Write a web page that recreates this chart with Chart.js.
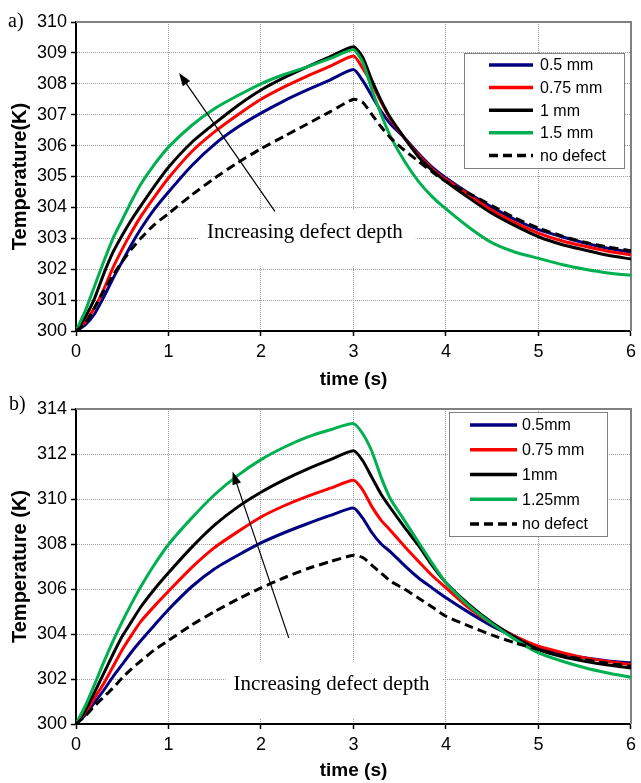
<!DOCTYPE html>
<html><head><meta charset="utf-8">
<script src="https://cdn.jsdelivr.net/npm/chart.js@4.4.1/dist/chart.umd.min.js"></script>
<style>body{margin:0;background:#fff;}canvas{display:block;}</style>
</head><body>
<canvas id="ca" width="641" height="392"></canvas>
<canvas id="cb" width="641" height="391"></canvas>
<script>
// ---------- data ----------
const times = [0,0.1,0.2,0.3,0.4,0.5,0.6,0.7,0.85,1.0,1.25,1.5,1.75,2.0,2.25,2.5,2.75,3.0,3.1,3.2,3.3,3.4,3.55,3.7,3.85,4.0,4.25,4.5,4.75,5.0,5.25,5.5,5.75,6.0];
const xTicks = [0,1,2,3,4,5,6];
const yTicksA = [300,301,302,303,304,305,306,307,308,309,310];
const yTicksB = [300,302,304,306,308,310,312,314];

const labelsA = ['0.5 mm','0.75 mm','1 mm','1.5 mm','no defect'];
const labelsB = ['0.5mm','0.75 mm','1mm','1.25mm','no defect'];

// panel a)
const a_05  = [300,300.2,300.55,301.1,301.7,302.25,302.8,303.3,303.95,304.5,305.35,306.05,306.6,307.05,307.45,307.8,308.13,308.46,308.1,307.6,307.1,306.7,306.25,305.75,305.3,304.95,304.45,304.0,303.6,303.28,303.05,302.85,302.68,302.55];
const a_075 = [300,300.3,300.75,301.35,302.05,302.65,303.2,303.7,304.35,304.95,305.8,306.45,307.0,307.5,307.9,308.25,308.57,308.9,308.5,308.0,307.4,306.85,306.25,305.7,305.25,304.9,304.4,303.9,303.5,303.17,302.92,302.74,302.58,302.46];
const a_1   = [300,300.45,301.05,301.85,302.55,303.1,303.6,304.05,304.7,305.3,306.1,306.72,307.3,307.8,308.2,308.55,308.88,309.2,308.85,308.1,307.45,306.9,306.25,305.65,305.2,304.84,304.3,303.8,303.4,303.05,302.8,302.62,302.45,302.33];
const a_15  = [300,300.65,301.45,302.25,303.0,303.6,304.2,304.75,305.4,305.95,306.65,307.2,307.62,308.0,308.3,308.55,308.82,309.1,308.7,307.8,307.0,306.3,305.5,304.85,304.35,303.95,303.35,302.85,302.55,302.35,302.15,302.0,301.88,301.8];
const a_nod = [300,300.25,300.75,301.3,301.8,302.25,302.65,303.0,303.45,303.8,304.4,304.95,305.45,305.9,306.3,306.7,307.1,307.5,307.4,307.0,306.6,306.25,305.85,305.5,305.15,304.84,304.45,304.05,303.65,303.33,303.08,302.87,302.72,302.6];

// panel b)
const b_05  = [300,300.4,300.95,301.5,302.1,302.65,303.2,303.7,304.4,305.09,306.1,306.9,307.5,308.05,308.5,308.9,309.27,309.6,309.15,308.5,308.0,307.65,307.05,306.5,306.05,305.61,304.95,304.35,303.85,303.38,303.12,302.94,302.8,302.72];
const b_075 = [300,300.5,301.15,301.8,302.55,303.3,303.95,304.55,305.25,305.9,306.95,307.85,308.55,309.2,309.7,310.12,310.48,310.83,310.4,309.65,309.05,308.6,307.9,307.24,306.6,306.05,305.15,304.45,303.9,303.46,303.18,302.94,302.78,302.64];
const b_1   = [300,300.6,301.4,302.25,303.1,303.9,304.55,305.2,306.0,306.72,307.85,308.85,309.65,310.3,310.85,311.33,311.75,312.14,311.7,310.95,310.2,309.6,308.75,307.95,307.05,306.28,305.3,304.5,303.85,303.31,303.0,302.79,302.62,302.49];
const b_125 = [300,300.8,301.75,302.75,303.68,304.55,305.35,306.1,307.1,307.98,309.15,310.2,311.05,311.75,312.3,312.75,313.08,313.35,312.9,312.1,310.95,310.0,309.05,308.1,307.15,306.28,305.25,304.45,303.75,303.16,302.8,302.5,302.27,302.08];
const b_nod = [300,300.35,300.8,301.2,301.6,302.05,302.45,302.8,303.3,303.71,304.4,305.0,305.55,306.05,306.5,306.9,307.22,307.5,307.4,307.05,306.7,306.35,306.0,305.6,305.2,304.79,304.35,303.95,303.6,303.31,303.05,302.86,302.7,302.57];

// annotation anchors (data coords)
const arrowA = {from:[2.15,303.87], to:[1.114,308.35]};
const arrowB = {from:[2.30,303.83], to:[1.693,311.22]};
const noteText = 'Increasing defect depth';
const noteA = [1.415,303.0];
const noteB = [1.704,301.5];

// ---------- styles ----------
const colors = ['#000080','#ff0000','#000000','#00b050','#000000'];
const dashes = [[],[],[],[],[9,5]];

function mkDatasets(labels, series){
  return series.map((arr,i)=>({
    label: labels[i],
    data: times.map((t,k)=>({x:t,y:arr[k]})),
    borderColor: colors[i],
    borderDash: dashes[i],
    borderWidth: 3,
    pointRadius: 0,
    tension: 0.2,
    fill: false,
    order: series.length - i
  }));
}

const decor = {
  id: 'decor',
  beforeDatasetsDraw(chart, args, o){
    const ctx = chart.ctx, ca = chart.chartArea;
    const xs = chart.scales.x, ys = chart.scales.y;
    ctx.save();
    ctx.strokeStyle = '#808080'; ctx.lineWidth = 2; ctx.setLineDash([]);
    ctx.beginPath(); ctx.moveTo(ca.left, ca.top); ctx.lineTo(ca.right, ca.top); ctx.lineTo(ca.right, ca.bottom); ctx.stroke();
    // note with white background
    ctx.font = '21px "Liberation Serif", "Times New Roman", serif';
    const tx = xs.getPixelForValue(o.note[0]), ty = ys.getPixelForValue(o.note[1]);
    const w = ctx.measureText(o.text).width;
    ctx.fillStyle = '#fff';
    ctx.fillRect(tx - 8, ty - 29, w + 21, 57);
    ctx.fillStyle = '#000'; ctx.textBaseline = 'alphabetic'; ctx.textAlign = 'left';
    ctx.fillText(o.text, tx, ty);
    ctx.restore();
  },
  afterDatasetsDraw(chart, args, o){
    const ctx = chart.ctx;
    const xs = chart.scales.x, ys = chart.scales.y;
    ctx.save();
    // arrow
    const x1 = xs.getPixelForValue(o.arrow.from[0]), y1 = ys.getPixelForValue(o.arrow.from[1]);
    const x2 = xs.getPixelForValue(o.arrow.to[0]), y2 = ys.getPixelForValue(o.arrow.to[1]);
    const ang = Math.atan2(y2 - y1, x2 - x1);
    const hl = 13, hw = 4.5;
    ctx.strokeStyle = '#000'; ctx.lineWidth = 1.2; ctx.setLineDash([]);
    ctx.beginPath(); ctx.moveTo(x1, y1);
    ctx.lineTo(x2 - Math.cos(ang)*hl*0.8, y2 - Math.sin(ang)*hl*0.8); ctx.stroke();
    ctx.fillStyle = '#000';
    ctx.beginPath();
    ctx.moveTo(x2, y2);
    ctx.lineTo(x2 - Math.cos(ang)*hl + Math.sin(ang)*hw, y2 - Math.sin(ang)*hl - Math.cos(ang)*hw);
    ctx.lineTo(x2 - Math.cos(ang)*hl - Math.sin(ang)*hw, y2 - Math.sin(ang)*hl + Math.cos(ang)*hw);
    ctx.closePath(); ctx.fill();
    // legend
    const L = o.legend;
    ctx.fillStyle = '#fff'; ctx.fillRect(L.x, L.y, L.w, L.h);
    ctx.strokeStyle = '#808080'; ctx.lineWidth = 1;
    ctx.strokeRect(L.x + 0.5, L.y + 0.5, L.w, L.h);
    ctx.font = '16px "Liberation Sans", Arial, sans-serif';
    ctx.textBaseline = 'middle'; ctx.textAlign = 'left';
    chart.data.datasets.forEach((ds, i) => {
      const yy = L.y + L.row0 + i * L.rowH;
      ctx.strokeStyle = ds.borderColor; ctx.lineWidth = 3.5;
      ctx.setLineDash(ds.borderDash || []);
      ctx.beginPath(); ctx.moveTo(L.lx1, yy); ctx.lineTo(L.lx2, yy); ctx.stroke();
      ctx.setLineDash([]);
      ctx.fillStyle = '#000';
      ctx.fillText(ds.label, L.tx, yy + 1);
    });
    // panel label
    ctx.font = '20px "Liberation Serif", "Times New Roman", serif';
    ctx.textBaseline = 'alphabetic';
    ctx.fillText(o.panel, o.panelPos[0], o.panelPos[1]);
    ctx.restore();
  }
};

function mkChart(id, cfg){
  return new Chart(document.getElementById(id), {
    type: 'line',
    data: { datasets: mkDatasets(cfg.labels, cfg.series) },
    plugins: [decor],
    options: {
      responsive: false, animation: false, devicePixelRatio: 1,
      layout: { padding: { left: 0, right: 5, top: cfg.top, bottom: 0 } },
      plugins: {
        legend: { display: false }, tooltip: { enabled: false },
        decor: { note: cfg.note, text: noteText, arrow: cfg.arrow, legend: cfg.legend, panel: cfg.panel, panelPos: cfg.panelPos }
      },
      scales: {
        x: {
          type: 'linear', min: 0, max: 6,
          afterBuildTicks: s => { s.ticks = xTicks.map(v => ({value: v})); },
          afterFit: s => { s.height = cfg.xh; },
          grid: { color: '#9a9a9a', lineWidth: 1, tickLength: 5, tickColor: '#000', tickWidth: 1.5 },
          border: { color: '#000', width: 2, dash: [1,1] },
          ticks: { color: '#000', padding: 5, maxRotation: 0, font: { family: '"Liberation Sans", Arial, sans-serif', size: 18 } },
          title: { display: true, text: 'time (s)', color: '#000', padding: { top: 0, bottom: 1 }, font: { family: '"Liberation Sans", Arial, sans-serif', size: 19, weight: 'bold' } }
        },
        y: {
          type: 'linear', min: cfg.ymin, max: cfg.ymax,
          afterBuildTicks: s => { s.ticks = cfg.yTicks.map(v => ({value: v})); },
          afterFit: s => { s.width = 76; },
          grid: { color: '#9a9a9a', lineWidth: 1, tickLength: 5, tickColor: '#000', tickWidth: 1.5 },
          border: { color: '#000', width: 2, dash: [1,1] },
          ticks: { color: '#000', padding: 4, font: { family: '"Liberation Sans", Arial, sans-serif', size: 18 } },
          title: { display: true, text: cfg.ytitle, color: '#000', padding: { top: 8, bottom: 0 }, font: { family: '"Liberation Sans", Arial, sans-serif', size: 20, weight: 'bold' } }
        }
      }
    }
  });
}

mkChart('ca', {
  labels: labelsA, series: [a_05, a_075, a_1, a_15, a_nod],
  ymin: 300, ymax: 310, yTicks: yTicksA, top: 22, xh: 61,
  ytitle: 'Temperature(K)', note: noteA, arrow: arrowA, panel: 'a)', panelPos: [8, 27],
  legend: { x: 464, y: 53, w: 160, h: 115, row0: 12, rowH: 22.6, lx1: 489, lx2: 533, tx: 540 }
});
mkChart('cb', {
  labels: labelsB, series: [b_05, b_075, b_1, b_125, b_nod],
  ymin: 300, ymax: 314, yTicks: yTicksB, top: 17, xh: 59,
  ytitle: 'Temperature (K)', note: noteB, arrow: arrowB, panel: 'b)', panelPos: [9, 18],
  legend: { x: 449, y: 20, w: 158, h: 124, row0: 13, rowH: 24.75, lx1: 470, lx2: 517, tx: 522 }
});
</script>
</body></html>
